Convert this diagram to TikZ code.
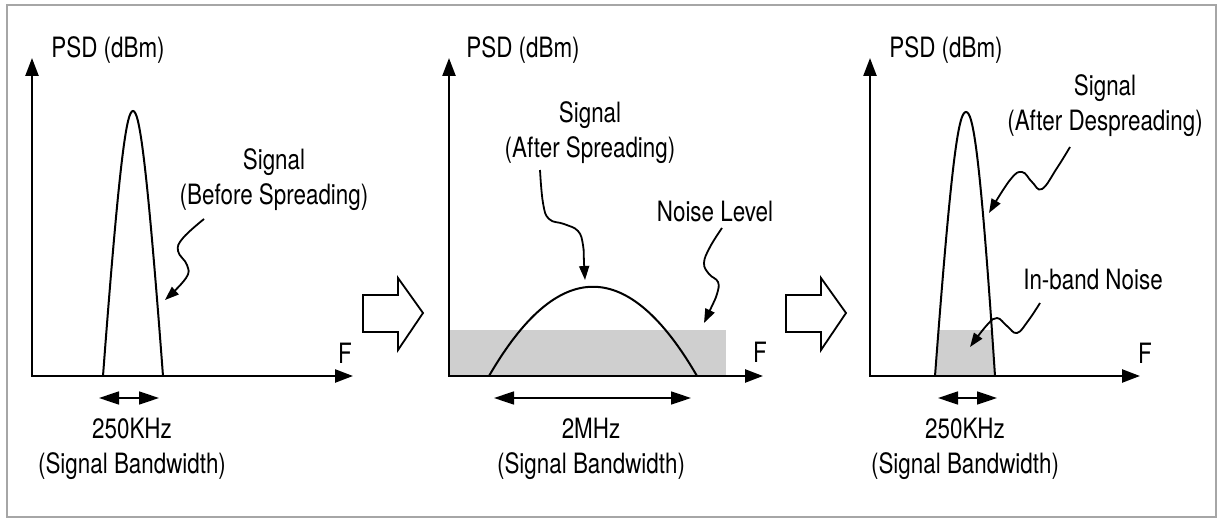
\documentclass[tikz,border=0pt]{standalone}
\usepackage{fontspec}
\setmainfont{TeX Gyre Heros}
\usetikzlibrary{arrows.meta}

\tikzset{
    axis/.style={line width=1.2pt, {Triangle[length=9pt,width=6.5pt]}-{Triangle[length=9pt,width=6.5pt]}},
    curve/.style={line width=1pt},
    bwarrow/.style={line width=0.8pt, {Triangle[length=10pt,width=6.5pt]}-{Triangle[length=10pt,width=6.5pt]}},
    squig/.style={line width=0.9pt, -{Triangle[length=7pt,width=5pt]}},
    lbl/.style={font=\fontsize{14}{17.5}\selectfont, xscale=0.8, inner sep=0pt, align=center},
    noise/.style={fill=black!19},
    blockarrow/.style={line width=0.9pt, draw=black, fill=white}
}

\begin{document}
\begin{tikzpicture}[x=0.5pt, y=-0.5pt]
\useasboundingbox (0,0) rectangle (1219,519);
\draw[black!35, line width=0.8pt] (7,5) rectangle (1216,517);

% noise areas
\fill[noise] (449,330) rectangle (726,376);
\begin{scope}
    \clip (870,330) rectangle (1000,376);
    \fill[noise] (935,376) .. controls (952,150) and (959,112) .. (966,112)
        .. controls (973,112) and (980,150) .. (995,376) -- cycle;
\end{scope}

% signal curves
\draw[curve] (103,376) .. controls (120,150) and (127,111) .. (133,111)
    .. controls (139,111) and (146,150) .. (163,376);
\draw[curve] (489,376) .. controls (558,257) and (628,257) .. (697,376);
\draw[curve] (935,376) .. controls (952,150) and (959,112) .. (966,112)
    .. controls (973,112) and (980,150) .. (995,376);

% axes
\coordinate (o1) at (32,376);
\coordinate (o2) at (449,376);
\coordinate (o3) at (870,376);
\draw[axis] (32,58) -- (o1) -- (353,376);
\draw[axis] (449,58) -- (o2) -- (763,376);
\draw[axis] (870,58) -- (o3) -- (1140,376);

% labels
\node[lbl] (psd1) at (108,50) {PSD (dBm)};
\node[lbl] (psd2) at (523,50) {PSD (dBm)};
\node[lbl] (psd3) at (946,50) {PSD (dBm)};
\node[lbl] (f1) at (345,353) {F};
\node[lbl] (f2) at (760,352) {F};
\node[lbl] (f3) at (1145,353) {F};
\node[lbl] (sig1) at (274,180) {Signal\\(Before Spreading)};
\node[lbl] (sig2) at (590,133) {Signal\\(After Spreading)};
\node[lbl] (sig3) at (1105,106) {Signal\\(After Despreading)};
\node[lbl] (noiselvl) at (715,212) {Noise Level};
\node[lbl] (inband) at (1093,280) {In-band Noise};
\node[lbl] (bw1) at (132,449) {250KHz\\(Signal Bandwidth)};
\node[lbl] (bw2) at (591,449) {2MHz\\(Signal Bandwidth)};
\node[lbl] (bw3) at (965,449) {250KHz\\(Signal Bandwidth)};

% bandwidth arrows
\draw[bwarrow] (99,398) -- (159,398);
\draw[bwarrow] (494,398) -- (691,398);
\draw[bwarrow] (938,398) -- (997,398);

% pointers
\draw[squig] plot[smooth, tension=0.7] coordinates {(204,219) (183,238) (178,251) (187,265) (186,278) (165,300)};
\draw[squig] plot[smooth, tension=0.7] coordinates {(540,170) (543,203) (549,219) (564,224) (578,231) (583,245) (584,263) (585,280)};
\draw[squig] plot[smooth, tension=0.7] coordinates {(722,228) (710,247) (704,263) (709,274) (718,282) (717,294) (711,308) (704,323)};
\draw[squig] plot[smooth, tension=0.7] coordinates {(1070,147) (1057,168) (1042,189) (1032,182) (1022,172) (1010,180) (989,213)};
\draw[squig] plot[smooth, tension=0.7] coordinates {(1040,303) (1028,321) (1017,333) (1007,326) (997,318) (987,325) (970,347)};

% transition arrows
\foreach \bx in {363,786}
    \draw[blockarrow] (\bx,295) -- ++(35,0) -- ++(0,-17) -- ++(25,35) -- ++(-25,37) -- ++(0,-18) -- ++(-35,0) -- cycle;
\end{tikzpicture}
\end{document}
